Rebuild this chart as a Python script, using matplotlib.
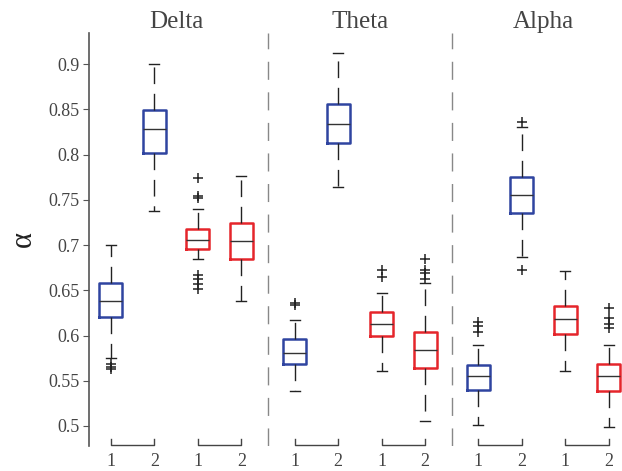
import matplotlib.pyplot as plt
import matplotlib.transforms as mtransforms

plt.rcParams['font.family'] = 'serif'
plt.rcParams['font.serif'] = ['Liberation Serif', 'Times New Roman', 'DejaVu Serif']

# Frequency bands and condition labels
bands = ['Delta', 'Theta', 'Alpha']
tick_labels = ['1', '2', '1', '2'] * 3
box_colors = ['#2F44A0', '#2F44A0', '#E5252B', '#E5252B'] * 3

# Box statistics (Delta b1, b2, r1, r2, Theta ..., Alpha ...)
whislo = [0.575, 0.738, 0.685, 0.638,
          0.539, 0.764, 0.561, 0.506,
          0.501, 0.687, 0.561, 0.499]
q1 = [0.621, 0.802, 0.696, 0.685,
      0.569, 0.813, 0.599, 0.564,
      0.540, 0.736, 0.602, 0.539]
med = [0.638, 0.828, 0.706, 0.705,
       0.581, 0.834, 0.613, 0.584,
       0.555, 0.755, 0.618, 0.555]
q3 = [0.658, 0.849, 0.718, 0.724,
      0.596, 0.856, 0.626, 0.604,
      0.567, 0.775, 0.633, 0.569]
whishi = [0.700, 0.900, 0.740, 0.776,
          0.617, 0.913, 0.647, 0.658,
          0.589, 0.831, 0.671, 0.589]
fliers = [[0.568, 0.565, 0.563], [], [0.774, 0.754, 0.752, 0.667, 0.662, 0.657, 0.652], [],
          [0.636, 0.634], [], [0.672, 0.665], [0.685, 0.673, 0.669, 0.663],
          [0.615, 0.610, 0.604], [0.836, 0.672], [], [0.630, 0.619, 0.613, 0.608]]

yticks = [0.5, 0.55, 0.6, 0.65, 0.7, 0.75, 0.8, 0.85, 0.9]

# layout
group_step = 4.22
positions = [g * group_step + i for g in range(3) for i in (1, 2, 3, 4)]

stats = []
for i in range(len(med)):
    stats.append(dict(whislo=whislo[i], q1=q1[i], med=med[i], q3=q3[i],
                      whishi=whishi[i], fliers=fliers[i]))

fig = plt.figure(figsize=(6.22, 4.71), dpi=100)
ax = fig.add_axes([89/622, 25/471, 533/622, 413/471])

txt = '#444444'
bp = ax.bxp(stats, positions=positions, widths=0.53, capwidths=0.23,
            boxprops=dict(linewidth=1.8),
            whiskerprops=dict(color='#222222', linewidth=1.0, linestyle=(0, (12, 7))),
            capprops=dict(color='#222222', linewidth=1.0),
            medianprops=dict(color='#333333', linewidth=1.0),
            flierprops=dict(marker='+', markeredgecolor='#222222', markersize=7,
                            markeredgewidth=1.1, linestyle='none'))
for box, c in zip(bp['boxes'], box_colors):
    box.set_color(c)

# separators between bands (midway between neighbouring groups)
for g in range(1, 3):
    ax.axvline((positions[4 * g - 1] + positions[4 * g]) / 2,
               color='#888888', linewidth=1.0, linestyle=(0, (13, 9)))

# band titles and bottom brackets
trans = mtransforms.blended_transform_factory(ax.transData, ax.transAxes)
for g, name in enumerate(bands):
    p = positions[g * 4:(g + 1) * 4]
    ax.text((p[0] + p[3]) / 2, 1.012, name, transform=trans, ha='center',
            va='baseline', fontsize=18, color=txt)
    for a, b in ((p[0], p[1]), (p[2], p[3])):
        ax.plot([a, a, b, b], [0.016, 0.002, 0.002, 0.016], transform=trans,
                color='#444444', linewidth=1.0, clip_on=False)

ax.set_xlim(0.5, 12.74)
ax.set_ylim(0.4778, 0.9346)
ax.set_yticks(yticks, [f'{v:g}' for v in yticks])
ax.set_xticks(positions, tick_labels)
ax.tick_params(axis='y', direction='out', length=4, color='#555555',
               labelsize=13, labelcolor=txt, pad=3)
ax.tick_params(axis='x', length=0, labelsize=13, labelcolor=txt, pad=5)
for s in ('top', 'right', 'bottom'):
    ax.spines[s].set_visible(False)
ax.spines['left'].set_color('#555555')
ax.spines['left'].set_linewidth(1.2)

ax.set_ylabel('α', fontsize=22, color='#222222')
ax.yaxis.set_label_coords(-0.095, 0.5)

fig.savefig('out.png', dpi=100)
